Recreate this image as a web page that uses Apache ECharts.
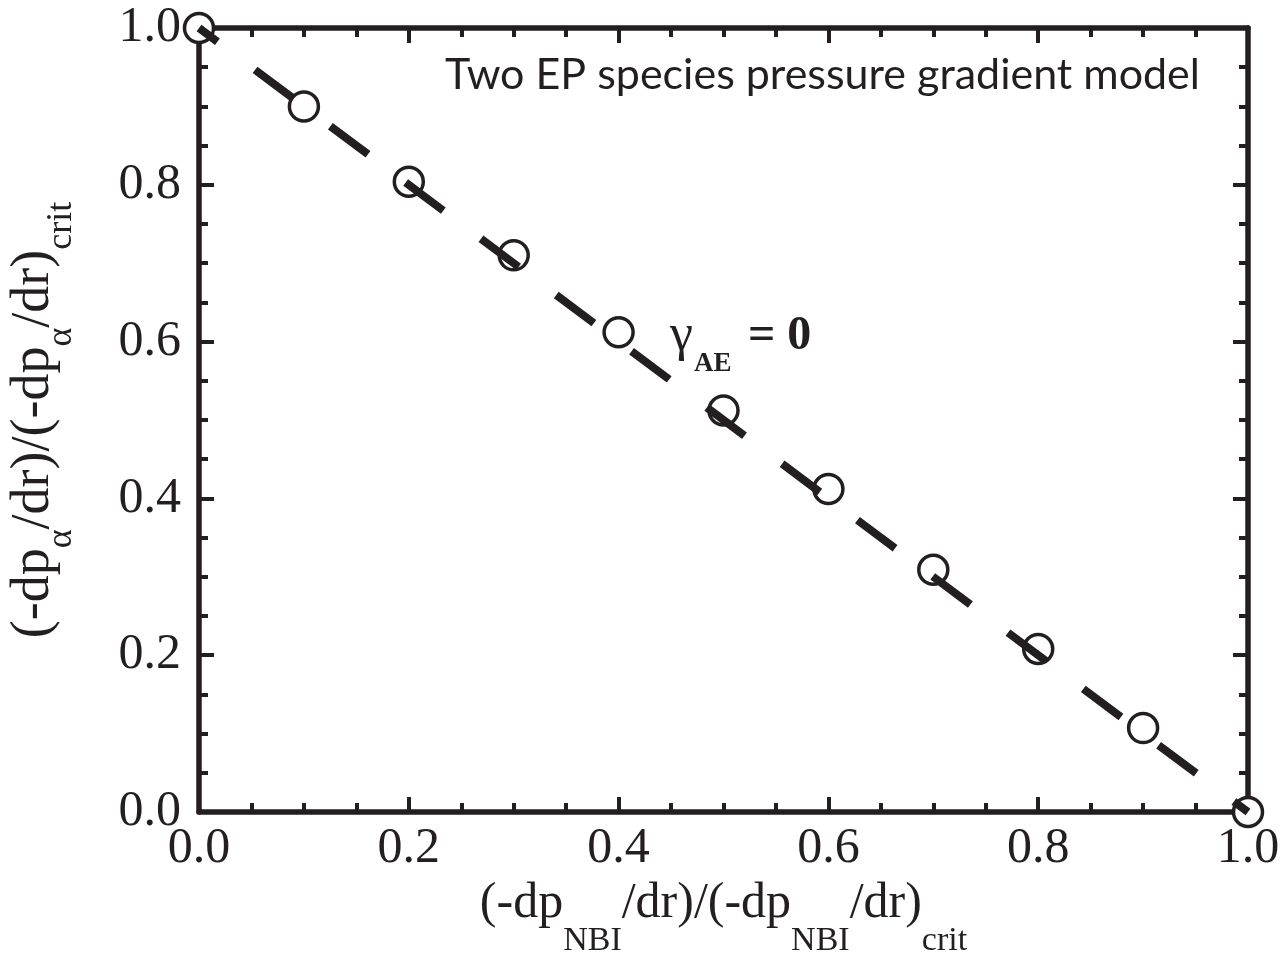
<!DOCTYPE html>
<html>
<head>
<meta charset="utf-8">
<script src="https://cdn.jsdelivr.net/npm/echarts@6/dist/echarts.min.js"></script>
<style>
html,body{margin:0;padding:0;background:#fff;}
#chart{width:1285px;height:954px;}
</style>
</head>
<body>
<div id="chart"></div>
<script>
// ---- data ----
const pointsX = [0.0, 0.1, 0.2, 0.3, 0.4, 0.5, 0.6, 0.7, 0.8, 0.9, 1.0];
const pointsY = [1.0, 0.900, 0.804, 0.710, 0.612, 0.512, 0.412, 0.309, 0.208, 0.107, 0.0];
const fitX = [0.0, 1.0];
const fitY = [1.0, 0.0];
const xTicks = [0.0, 0.2, 0.4, 0.6, 0.8, 1.0];
const yTicks = [0.0, 0.2, 0.4, 0.6, 0.8, 1.0];
const titleText = 'Two EP species pressure gradient model';

const INK = '#231f20';
const SERIF = '"Liberation Serif", "Times New Roman", serif';

const chart = echarts.init(document.getElementById('chart'), null, {renderer: 'canvas'});

function axisCommon(showLabels, fontSize) {
  return {
    type: 'value', min: xTicks[0], max: xTicks[xTicks.length - 1], interval: 0.2,
    axisLine: {show: true, onZero: false, lineStyle: {color: INK, width: 5.5}},
    axisTick: {show: true, inside: true, length: 15, lineStyle: {color: INK, width: 4}},
    minorTick: {show: true, splitNumber: 4, length: 9, lineStyle: {color: INK, width: 4}},
    splitLine: {show: false},
    minorSplitLine: {show: false},
    axisLabel: {
      show: showLabels, color: INK, fontFamily: SERIF, fontSize: fontSize,
      formatter: v => v.toFixed(1)
    }
  };
}

const xBottom = Object.assign(axisCommon(true, 50), {
  position: 'bottom',
  name: '{m|(-dp}{s|NBI}{m|/dr)/(-dp}{s|NBI}{m|/dr)}{s|crit}',
  nameLocation: 'middle', nameGap: 59,
  nameTextStyle: {
    rich: {
      m: {fontFamily: SERIF, fontSize: 50, color: INK, lineHeight: 60, verticalAlign: 'top'},
      s: {fontFamily: SERIF, fontSize: 34, color: INK, lineHeight: 34, padding: [45, 0, 0, 0], verticalAlign: 'top'}
    }
  }
});
xBottom.axisLabel.margin = 12;
const xTop = Object.assign(axisCommon(false, 50), {position: 'top'});

const yLeft = Object.assign(axisCommon(true, 50), {
  position: 'left', min: yTicks[0], max: yTicks[yTicks.length - 1],
  name: '{m|(-dp}{s|α}{m|/dr)/(-dp}{s|α}{m|/dr)}{s|crit}',
  nameLocation: 'middle', nameRotate: 90, nameGap: 128,
  nameTextStyle: {
    rich: {
      m: {fontFamily: SERIF, fontSize: 54, color: INK, lineHeight: 64, verticalAlign: 'top'},
      s: {fontFamily: SERIF, fontSize: 36, color: INK, lineHeight: 36, padding: [37, 0, 0, 0], verticalAlign: 'top'}
    }
  }
});
yLeft.axisLabel.margin = 18;
const yRight = Object.assign(axisCommon(false, 50), {position: 'right', min: yTicks[0], max: yTicks[yTicks.length - 1]});

const option = {
  backgroundColor: '#fff',
  animation: false,
  grid: {left: 199, top: 28, right: 37, bottom: 142, containLabel: false, outerBoundsMode: 'none'},
  xAxis: [xBottom, xTop],
  yAxis: [yLeft, yRight],
  series: [
    {
      type: 'scatter', xAxisIndex: 0, yAxisIndex: 0,
      data: pointsX.map((x, i) => [x, pointsY[i]]),
      symbol: 'circle', symbolSize: 29,
      itemStyle: {color: '#fff', borderColor: INK, borderWidth: 3.5, opacity: 1},
      clip: false, z: 3
    },
    {
      type: 'line', xAxisIndex: 0, yAxisIndex: 0,
      data: fitX.map((x, i) => [x, fitY[i]]),
      showSymbol: false, symbol: 'none',
      lineStyle: {color: INK, width: 8, type: [47, 47], dashOffset: 24, cap: 'butt'},
      clip: false, z: 4
    }
  ],
  graphic: [
    {type: 'text', left: 445, top: 54, z: 10,
     style: {text: titleText, font: '43px Lato', fill: INK}},
    {type: 'text', x: 670, y: 336, z: 10,
     style: {text: 'γ', font: '52px ' + SERIF, fill: INK, verticalAlign: 'middle'}},
    {type: 'text', x: 694, y: 364, z: 10,
     style: {text: 'AE', font: 'bold 27px ' + SERIF, fill: INK, verticalAlign: 'middle'}},
    {type: 'text', x: 748, y: 337, z: 10,
     style: {text: '= 0', font: 'bold 48px ' + SERIF, fill: INK, verticalAlign: 'middle'}}
  ]
};
chart.setOption(option);
</script>
</body>
</html>
